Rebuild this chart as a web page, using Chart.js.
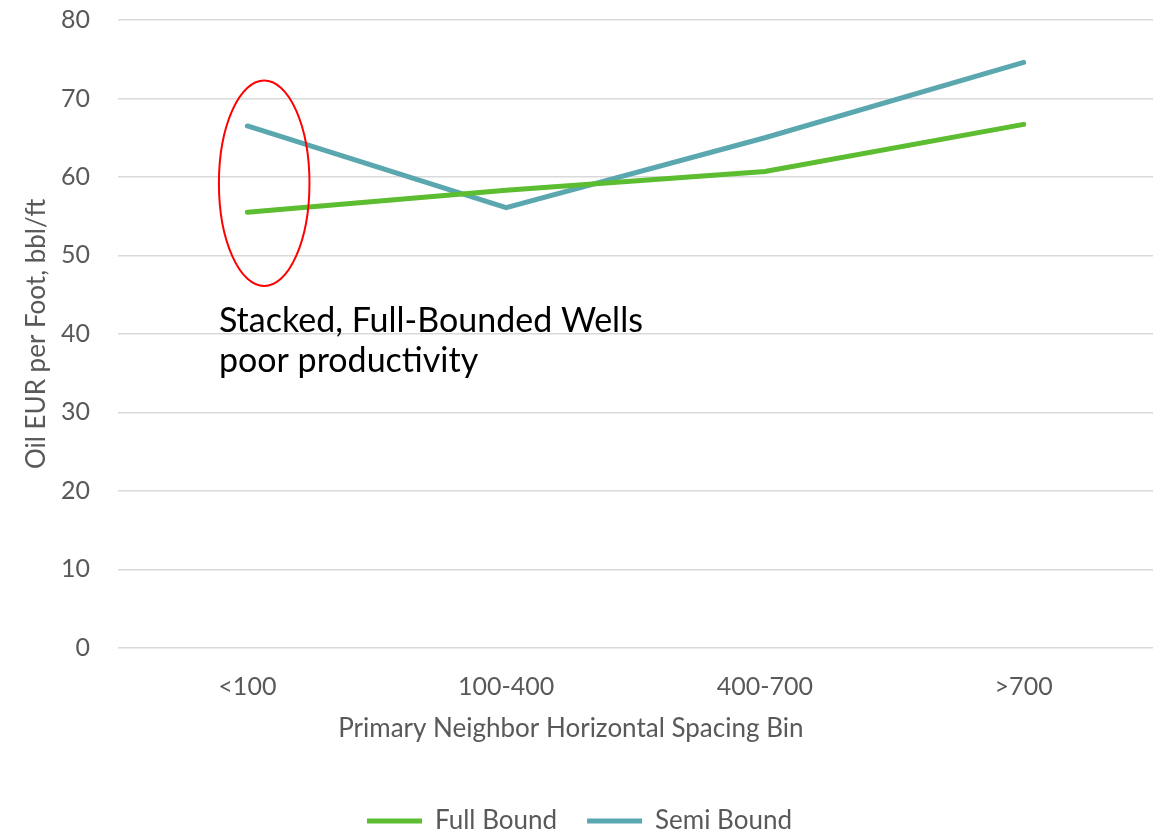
<!DOCTYPE html>
<html>
<head>
<meta charset="utf-8">
<script src="https://cdn.jsdelivr.net/npm/chart.js@4"></script>
<style>
  html, body { margin: 0; padding: 0; background: #fff; }
  #wrap { width: 1163px; height: 834px; }
</style>
</head>
<body>
<div id="wrap"><canvas id="myChart"></canvas></div>
<script>
const categories = ['<100', '100-400', '400-700', '>700'];
const fullBound = [55.5, 58.3, 60.7, 66.7];
const semiBound = [66.5, 56.1, 65.0, 74.6];
const yTicks = [0, 10, 20, 30, 40, 50, 60, 70, 80];

const xTitle = 'Primary Neighbor Horizontal Spacing Bin';
const xTitleAt = 1.25; // category index where the axis title is centred

// callout, in data units (category index, y value)
const noteLines = ['Stacked, Full-Bounded Wells', 'poor productivity'];
const noteAt = { x: -0.11, y: [40.3, 35.2] };
const ring = { x: 0.065, y: 59.2, rx: 0.175, ry: 13.1 };

const FONT = 'Lato, "Open Sans", sans-serif';
const TITLE_PAD_BOTTOM = 34;

const calloutPlugin = {
    id: 'callout',
    afterDatasetsDraw(chart) {
        const ctx = chart.ctx;
        const xs = chart.scales.x, ys = chart.scales.y;
        const step = xs.getPixelForValue(1) - xs.getPixelForValue(0);
        const cx = xs.getPixelForValue(0) + ring.x * step;
        const cy = ys.getPixelForValue(ring.y);
        const rx = ring.rx * step;
        const ry = ys.getPixelForValue(ring.y - ring.ry) - cy;
        ctx.save();
        ctx.beginPath();
        ctx.ellipse(cx, cy, rx, ry, 0, 0, Math.PI * 2);
        ctx.strokeStyle = '#ff0000';
        ctx.lineWidth = 2;
        ctx.stroke();

        ctx.fillStyle = '#000';
        ctx.font = '34px ' + FONT;
        ctx.textBaseline = 'alphabetic';
        const tx = xs.getPixelForValue(0) + noteAt.x * step;
        noteLines.forEach((t, i) => {
            ctx.fillText(t, tx, ys.getPixelForValue(noteAt.y[i]));
        });

        // x axis title, drawn off-centre like the original
        ctx.fillStyle = '#595959';
        ctx.font = '26px ' + FONT;
        ctx.textAlign = 'center';
        ctx.textBaseline = 'middle';
        ctx.fillText(xTitle, xs.getPixelForValue(0) + xTitleAt * step,
            xs.bottom - TITLE_PAD_BOTTOM - 26 * 1.2 / 2);
        ctx.restore();
    }
};

new Chart(document.getElementById('myChart'), {
    type: 'line',
    data: {
        labels: categories,
        datasets: [{
            label: 'Full Bound',
            data: fullBound,
            borderColor: '#5bbd2f',
            backgroundColor: '#5bbd2f',
            borderWidth: 5,
            borderCapStyle: 'round',
            pointRadius: 0,
            tension: 0
        }, {
            label: 'Semi Bound',
            data: semiBound,
            borderColor: '#5ba7b0',
            backgroundColor: '#5ba7b0',
            borderWidth: 5,
            borderCapStyle: 'round',
            pointRadius: 0,
            tension: 0
        }]
    },
    options: {
        responsive: true,
        maintainAspectRatio: false,
        animation: false,
        layout: { padding: { top: 20, right: 10, left: 6, bottom: -10 } },
        plugins: {
            tooltip: { enabled: false },
            legend: {
                position: 'bottom',
                labels: {
                    usePointStyle: true,
                    pointStyleWidth: 55,
                    pointStyle: 'line',
                    color: '#595959',
                    font: { family: FONT, size: 26 },
                    padding: 30
                }
            }
        },
        scales: {
            x: {
                offset: true,
                grid: { display: false, drawTicks: false },
                border: { display: false },
                ticks: { color: '#595959', font: { family: FONT, size: 25 }, padding: 24 },
                title: {
                    // keeps the room for the title; the text itself is drawn by the plugin
                    display: true,
                    text: xTitle,
                    color: 'rgba(0,0,0,0)',
                    font: { family: FONT, size: 26 },
                    padding: { top: -13, bottom: TITLE_PAD_BOTTOM }
                }
            },
            y: {
                min: 0,
                max: 80,
                afterBuildTicks(axis) {
                    axis.ticks = yTicks.map(v => ({ value: v }));
                },
                afterFit(axis) {
                    axis.width = 112;
                    axis.paddingTop = 0;
                    axis.paddingBottom = 0;
                },
                grid: { color: '#d9d9d9', lineWidth: 1.5, drawTicks: false },
                border: { display: false },
                ticks: { color: '#595959', font: { family: FONT, size: 25 }, padding: 28 },
                title: {
                    display: true,
                    text: 'Oil EUR per Foot, bbl/ft',
                    color: '#595959',
                    font: { family: FONT, size: 26 },
                    padding: { top: 15, bottom: 9 }
                }
            }
        }
    },
    plugins: [calloutPlugin]
});
</script>
</body>
</html>
